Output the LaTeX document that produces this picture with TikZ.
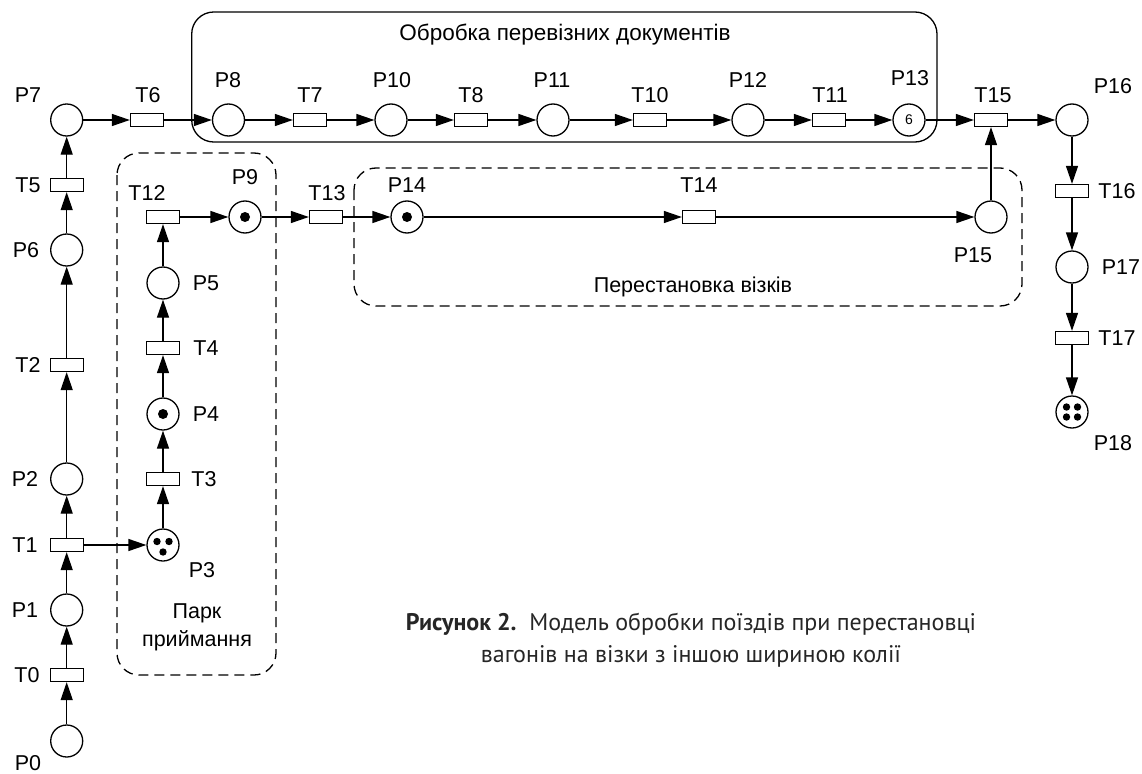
\documentclass[tikz,border=0pt]{standalone}
\usepackage{fontspec}
\setmainfont{Liberation Sans}
\newfontfamily\capfont{PT Sans}
\usetikzlibrary{arrows.meta,calc}
\begin{document}
\begin{tikzpicture}[x=1pt,y=-1pt,
  place/.style={circle,draw,line width=1.3pt,minimum size=32pt,inner sep=0pt},
  trans/.style={rectangle,draw,line width=1.3pt,minimum width=33pt,minimum height=13pt,inner sep=0pt},
  arr/.style={-{Triangle[length=18pt,width=12pt]},line width=1.3pt},
  lbl/.style={font=\fontsize{21.5}{24}\selectfont,inner sep=0pt},
  grp/.style={line width=1.3pt,rounded corners=22pt},
  dgrp/.style={line width=1.3pt,rounded corners=22pt,dash pattern=on 10pt off 6pt},
  tok/.style={fill=black}]
\useasboundingbox (0,0) rectangle (1142,773);
% group boxes
\draw[grp] (191.7,12) rectangle (937,142);
\draw[dgrp] (117,153) rectangle (276,675);
\draw[dgrp] (354,168) rectangle (1022,306);
\node[lbl,font=\fontsize{22.5}{24}\selectfont] (title) at (565,35) {Обробка перевізних документів};
\node[lbl] (gr2) at (693,287) {Перестановка візків};
\node[lbl,align=center] (gr1) at (197,627) {Парк\\[4pt]приймання};
% left column
\node[place] (P7) at (66.7,120) {};
\node[trans] (T5) at (66.7,185) {};
\node[place] (P6) at (66.7,250) {};
\node[trans] (T2) at (66.7,365) {};
\node[place] (P2) at (66.7,479) {};
\node[trans] (T1) at (66.7,545) {};
\node[place] (P1) at (66.7,610) {};
\node[trans] (T0) at (66.7,675) {};
\node[place] (P0) at (66.7,741) {};
% top row
\node[trans] (T6) at (147,120) {};
\node[place] (P8) at (228.5,120) {};
\node[trans] (T7) at (310,120) {};
\node[place] (P10) at (391,120) {};
\node[trans] (T8) at (471,120) {};
\node[place] (P11) at (553,120) {};
\node[trans] (T10) at (650,120) {};
\node[place] (P12) at (748,120) {};
\node[trans] (T11) at (829,120) {};
\node[place,font=\fontsize{14}{14}\selectfont] (P13) at (909,120) {6};
\node[trans] (T15) at (991,120) {};
\node[place] (P16) at (1072,120) {};
% right column
\node[trans] (T16) at (1072,191) {};
\node[place] (P17) at (1072,267) {};
\node[trans] (T17) at (1072,338) {};
\node[place] (P18) at (1072,412) {};
% middle column
\node[place] (P3) at (163,545) {};
\node[trans] (T3) at (163,479) {};
\node[place] (P4) at (163,414) {};
\node[trans] (T4) at (163,348) {};
\node[place] (P5) at (163,283) {};
\node[trans] (T12) at (163,217) {};
% middle row
\node[place] (P9) at (245,217) {};
\node[trans] (T13) at (326,217) {};
\node[place] (P14) at (407,217) {};
\node[trans] (T14) at (699,217) {};
\node[place] (P15) at (991,217) {};
% tokens
\fill[tok] (P9) circle (5pt);
\fill[tok] (P4) circle (5pt);
\fill[tok] (P14) circle (5pt);
\fill[tok] ($(P3)+(-6,-3.5)$) circle (3.7pt);
\fill[tok] ($(P3)+(6,-3.5)$) circle (3.7pt);
\fill[tok] ($(P3)+(0,7)$) circle (3.7pt);
\fill[tok] ($(P18)+(-5.5,-5)$) circle (3.7pt);
\fill[tok] ($(P18)+(5.5,-5)$) circle (3.7pt);
\fill[tok] ($(P18)+(-5.5,5)$) circle (3.7pt);
\fill[tok] ($(P18)+(5.5,5)$) circle (3.7pt);
% labels
\node[lbl] (lP7) at (28,95) {P7};
\node[lbl] (lT5) at (28,185) {T5};
\node[lbl] (lP6) at (26,250) {P6};
\node[lbl] (lT2) at (28,365) {T2};
\node[lbl] (lP2) at (25,479) {P2};
\node[lbl] (lT1) at (25,545) {T1};
\node[lbl] (lP1) at (25,610) {P1};
\node[lbl] (lT0) at (27,675) {T0};
\node[lbl] (lP0) at (28,763) {P0};
\node[lbl] (lT6) at (148,95) {T6};
\node[lbl] (lP8) at (228,80) {P8};
\node[lbl] (lT7) at (310,95) {T7};
\node[lbl] (lP10) at (392,80) {P10};
\node[lbl] (lT8) at (471,95) {T8};
\node[lbl] (lP11) at (552,80) {P11};
\node[lbl] (lT10) at (650,95) {T10};
\node[lbl] (lP12) at (748,80) {P12};
\node[lbl] (lT11) at (830,95) {T11};
\node[lbl] (lP13) at (910,78) {P13};
\node[lbl] (lT15) at (993,95) {T15};
\node[lbl] (lP16) at (1113,86) {P16};
\node[lbl] (lT16) at (1117,191) {T16};
\node[lbl] (lP17) at (1121,267) {P17};
\node[lbl] (lT17) at (1117,338) {T17};
\node[lbl] (lP18) at (1113,443) {P18};
\node[lbl] (lT12) at (147,193) {T12};
\node[lbl] (lP9) at (245,177) {P9};
\node[lbl] (lT13) at (327,193) {T13};
\node[lbl] (lP14) at (407,185) {P14};
\node[lbl] (lT14) at (699,185) {T14};
\node[lbl] (lP15) at (973,255) {P15};
\node[lbl] (lP5) at (206,283) {P5};
\node[lbl] (lT4) at (206,348) {T4};
\node[lbl] (lP4) at (206,414) {P4};
\node[lbl] (lT3) at (204,479) {T3};
\node[lbl] (lP3) at (202,570) {P3};
% arcs
\draw[arr] (P0) -- (T0);
\draw[arr] (T0) -- (P1);
\draw[arr] (P1) -- (T1);
\draw[arr] (T1) -- (P2);
\draw[arr] (P2) -- (T2);
\draw[arr] (T2) -- (P6);
\draw[arr] (P6) -- (T5);
\draw[arr] (T5) -- (P7);
\draw[arr] (P7) -- (T6);
\draw[arr] (T6) -- (P8);
\draw[arr] (P8) -- (T7);
\draw[arr] (T7) -- (P10);
\draw[arr] (P10) -- (T8);
\draw[arr] (T8) -- (P11);
\draw[arr] (P11) -- (T10);
\draw[arr] (T10) -- (P12);
\draw[arr] (P12) -- (T11);
\draw[arr] (T11) -- (P13);
\draw[arr] (P13) -- (T15);
\draw[arr] (T15) -- (P16);
\draw[arr] (P16) -- (T16);
\draw[arr] (T16) -- (P17);
\draw[arr] (P17) -- (T17);
\draw[arr] (T17) -- (P18);
\draw[arr] (T1) -- (P3);
\draw[arr] (P3) -- (T3);
\draw[arr] (T3) -- (P4);
\draw[arr] (P4) -- (T4);
\draw[arr] (T4) -- (P5);
\draw[arr] (P5) -- (T12);
\draw[arr] (T12) -- (P9);
\draw[arr] (P9) -- (T13);
\draw[arr] (T13) -- (P14);
\draw[arr] (P14) -- (T14);
\draw[arr] (T14) -- (P15);
\draw[arr] (P15) -- (T15);
% caption
\node[font=\capfont\fontsize{24}{32}\selectfont,align=center,text=black!85,inner sep=0pt] (cap) at (691,640)
  {{\bfseries Рисунок 2.}\ \ Модель обробки поїздів при перестановці\\вагонів на візки з іншою шириною колії};
\end{tikzpicture}
\end{document}
